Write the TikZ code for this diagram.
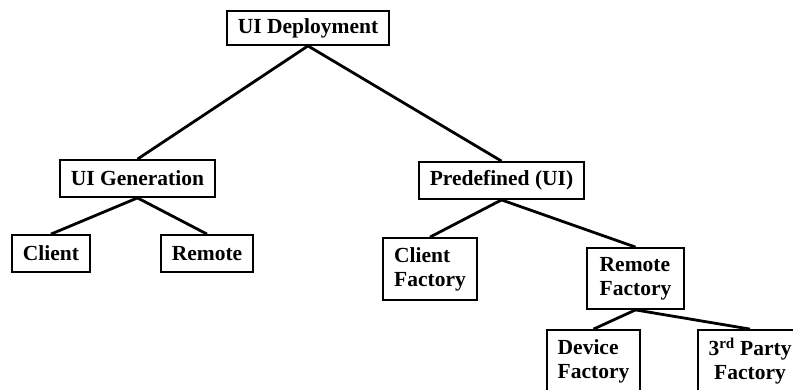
\documentclass[tikz,border=0pt]{standalone}
\usepackage{fontspec}
\setmainfont{Liberation Serif}
\tikzset{box/.style={draw, line width=1.8pt, inner sep=0pt, align=left,
    font=\fontsize{21.5}{24}\selectfont\bfseries},
  link/.style={line width=2.8pt}}

\begin{document}
\begin{tikzpicture}[x=1pt,y=1pt] % deployment tree
\useasboundingbox (0,0) rectangle (793,389);

\node[box, minimum width=162, minimum height=34] (dep) at (308,361) {UI Deployment};
\node[box, minimum width=155, minimum height=37] (gen) at (137.5,210.5) {UI Generation};
\node[box, minimum width=165, minimum height=37] (pre) at (501.5,208.5) {Predefined (UI)};
\node[box, minimum width=78, minimum height=37] (cli) at (51,135.5) {Client};
\node[box, minimum width=92, minimum height=37] (rem) at (207,135.5) {Remote};
\node[box, minimum width=94, minimum height=62] (cfac) at (430,120) {Client\\Factory};
\node[box, minimum width=97, minimum height=61] (rfac) at (635.5,110.5) {Remote\\Factory};
\node[box, minimum width=93, minimum height=62] (dfac) at (593.5,28) {Device\\Factory};
\node[box, align=center, minimum width=104, minimum height=62] (tfac) at (750,28) {3\textsuperscript{rd} Party\\Factory};

\draw[link] (dep.south) -- (gen.north);
\draw[link] (dep.south) -- (pre.north);
\draw[link] (gen.south) -- (cli.north);
\draw[link] (gen.south) -- (rem.north);
\draw[link] (pre.south) -- (cfac.north);
\draw[link] (pre.south) -- (rfac.north);
\draw[link] (rfac.south) -- (dfac.north);
\draw[link] (rfac.south) -- (tfac.north);
\end{tikzpicture}
\end{document}
